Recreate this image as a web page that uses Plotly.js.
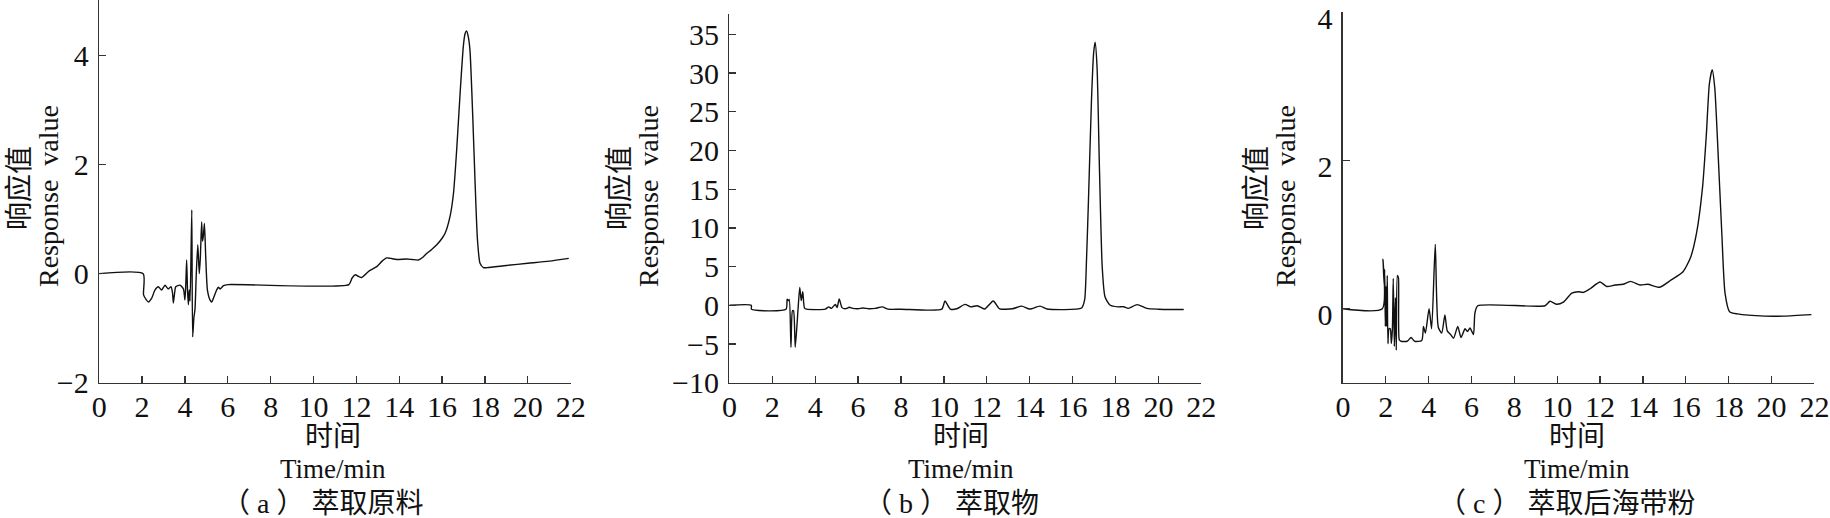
<!DOCTYPE html>
<html>
<head>
<meta charset="utf-8">
<script src="https://cdn.plot.ly/plotly-3.0.1.min.js"></script>
<style>html,body{margin:0;padding:0;background:#fff;}#chart{width:1830px;height:518px;}</style>
</head>
<body>
<div id="chart"></div>
<script>
// ---- data ----
const timeA = [0,2.05,2.07,2.2,2.3,2.45,2.6,2.76,2.91,3.07,3.22,3.35,3.42,3.46,3.52,3.57,3.77,3.93,4.0,4.04,4.08,4.12,4.16,4.2,4.24,4.32,4.36,4.42,4.47,4.53,4.60,4.67,4.72,4.78,4.82,4.86,4.91,4.97,5.05,5.17,5.25,5.33,5.48,5.56,5.64,5.8,6.0,11.65,11.8,11.95,12.1,12.25,12.6,12.95,13.2,13.41,13.6,13.88,14.35,14.6,14.89,15.1,15.28,15.5,15.75,16.0,16.14,16.37,16.53,16.68,16.84,16.99,17.07,17.14,17.22,17.30,17.43,17.54,17.65,17.77,17.93,18.1,19,20,21,21.91];
const respA = [0,0,-0.39,-0.48,-0.52,-0.45,-0.30,-0.24,-0.30,-0.21,-0.28,-0.24,-0.35,-0.54,-0.35,-0.24,-0.21,-0.28,-0.48,-0.2,0.25,-0.3,-0.57,-0.3,-0.5,1.17,-1.16,-0.8,-0.65,0.0,0.53,0.0,0.3,0.95,0.6,0.69,0.92,0.31,-0.3,-0.48,-0.52,-0.45,-0.3,-0.25,-0.28,-0.22,-0.2,-0.2,-0.08,-0.02,-0.05,-0.07,0.05,0.13,0.23,0.29,0.28,0.26,0.27,0.26,0.25,0.3,0.37,0.44,0.53,0.65,0.74,1.05,1.47,2.27,3.31,4.17,4.40,4.45,4.35,4.10,2.88,1.66,0.62,0.19,0.11,0.11,0.15,0.19,0.23,0.28];

const timeB = [0,1.02,1.03,2.64,2.69,2.74,2.79,2.87,2.94,2.99,3.07,3.2,3.28,3.35,3.42,3.5,3.6,4.47,4.63,4.75,4.94,5.02,5.12,5.25,5.4,5.59,5.75,6.0,6.22,6.5,6.8,7.13,7.4,8,9.9,10.05,10.3,10.6,10.98,11.25,11.56,11.9,12.30,12.6,13.2,13.63,14.0,14.48,14.8,16.42,16.56,16.65,16.74,16.88,16.98,17.05,17.14,17.25,17.38,17.51,17.74,18.12,18.37,18.6,19.01,19.46,20,21.18];
const respB = [0,0,-0.52,-0.52,0.78,0.6,0.75,-5.43,-0.7,-0.7,-5.43,-0.5,2.32,0.6,1.76,-0.35,-0.5,-0.5,-0.2,-0.4,0.1,-0.3,0.81,-0.3,-0.45,-0.26,-0.4,-0.45,-0.35,-0.45,-0.4,-0.2,-0.5,-0.5,-0.5,0.56,-0.48,-0.45,0.12,-0.2,-0.05,-0.48,0.56,-0.45,-0.45,-0.1,-0.48,-0.1,-0.48,-0.35,0.69,6,13.6,26.5,32.6,34.0,30.8,17.9,5.0,1.1,0.04,-0.2,-0.18,-0.4,0.09,-0.4,-0.5,-0.55];

const timeC = [0,1.84,1.87,1.92,1.95,1.98,2.01,2.04,2.07,2.10,2.15,2.21,2.26,2.31,2.35,2.40,2.45,2.49,2.54,2.59,2.63,2.71,3.0,3.18,3.35,3.68,3.76,3.85,4.02,4.14,4.31,4.45,4.61,4.76,4.87,5.03,5.16,5.36,5.51,5.70,5.81,5.93,6.09,6.16,6.29,9.43,9.66,9.98,10.29,10.68,10.99,11.2,11.53,12.0,12.31,12.7,13.07,13.42,13.87,14.23,14.78,15.32,15.87,16.23,16.50,16.78,16.96,17.10,17.23,17.35,17.50,17.68,17.83,18.04,18.41,19.68,20.58,21.86];
const respC = [0,0,0.67,0.34,0.53,-0.24,0.3,-0.24,0.45,-0.47,-0.27,-0.27,-0.47,-0.27,0.41,-0.51,0.15,-0.56,0.45,0.42,-0.42,-0.44,-0.44,-0.39,-0.44,-0.43,-0.24,-0.33,0.0,-0.27,0.87,-0.25,-0.33,-0.085,-0.3,-0.35,-0.4,-0.24,-0.39,-0.27,-0.31,-0.26,-0.35,-0.06,0.04,0.04,0.10,0.06,0.09,0.21,0.23,0.22,0.27,0.36,0.30,0.32,0.33,0.37,0.32,0.33,0.29,0.39,0.50,0.70,1.02,1.64,2.36,3.04,3.23,2.99,2.14,1.02,0.21,-0.04,-0.07,-0.1,-0.1,-0.08];

const yTitleCn = "响应值";
const yTitleEn = "Response  value";
const xTitleCn = "时间";
const xTitleEn = "Time/min";
const captions = ["（ a ） 萃取原料", "（ b ） 萃取物", "（ c ） 萃取后海带粉"];
const yRanges = [[-2, 5.02], [-10, 37.64], [-1, 4.01]];
const yDticks = [2, 5, 2];

// ---- layout ----
const W = 1830, H = 518;
const FONT = "'Liberation Serif', 'Times New Roman', 'Noto Sans CJK SC', serif";
const px = v => v / W;
const py = v => 1 - v / H;

const xDomains = [[99.2, 570.7], [729.4, 1201.3], [1342.9, 1814.4]];
const yTops = [0, 14, 12];
const yBottom = 382.7;
const yLabelShift = [0, 0, 6];
const yCnX = [20, 620, 1257];
const yEnX = [48, 648, 1285];
const xTitleX = [332.6, 961, 1576.5];
const capX = [322, 951, 1566];

const times = [timeA, timeB, timeC];
const resps = [respA, respB, respC];

const traces = [];
const layout = {
  width: W, height: H,
  margin: {l: 0, r: 0, t: 0, b: 0},
  paper_bgcolor: '#ffffff', plot_bgcolor: '#ffffff',
  showlegend: false,
  font: {family: FONT, color: '#111', size: 28},
  annotations: []
};

function ann(x, y, text, size, angle) {
  return {
    xref: 'paper', yref: 'paper', x: px(x), y: py(y),
    xanchor: 'center', yanchor: 'middle', textangle: angle || 0,
    text: text, showarrow: false, borderpad: 0,
    font: {family: FONT, size: size, color: '#111'}
  };
}

for (let i = 0; i < 3; i++) {
  const sx = i === 0 ? '' : String(i + 1);
  traces.push({
    x: times[i], y: resps[i], type: 'scatter', mode: 'lines',
    line: {color: '#111111', width: 1.4, shape: 'spline', smoothing: 0.6},
    xaxis: 'x' + sx, yaxis: 'y' + sx, hoverinfo: 'skip'
  });
  const axCommon = {
    showgrid: false, zeroline: false, showline: true,
    linecolor: '#333333', linewidth: 1.5,
    ticks: 'inside', ticklen: 7, tickwidth: 1.3, tickcolor: '#333333',
    tickfont: {family: FONT, size: 30, color: '#111'},
    ticklabeloverflow: 'allow',
    fixedrange: true
  };
  layout['xaxis' + sx] = Object.assign({}, axCommon, {
    domain: [px(xDomains[i][0]), px(xDomains[i][1])],
    range: [0, 22], dtick: 2, tick0: 0,
    anchor: 'y' + sx, ticklabelstandoff: -3
  });
  layout['yaxis' + sx] = Object.assign({}, axCommon, {
    domain: [py(yBottom), py(yTops[i])],
    range: yRanges[i], dtick: yDticks[i], tick0: 0,
    anchor: 'x' + sx, ticklabelstandoff: 3, ticklabelshift: yLabelShift[i]
  });
  layout.annotations.push(ann(yCnX[i], 188, yTitleCn, 28, -90));
  layout.annotations.push(ann(yEnX[i], 196, yTitleEn, 28, -90));
  layout.annotations.push(ann(xTitleX[i], 436, xTitleCn, 28));
  layout.annotations.push(ann(xTitleX[i], 469, xTitleEn, 27));
  layout.annotations.push(ann(capX[i], 503, captions[i], 28));
}

Plotly.newPlot('chart', traces, layout, {displayModeBar: false, staticPlot: true});
</script>
</body>
</html>
